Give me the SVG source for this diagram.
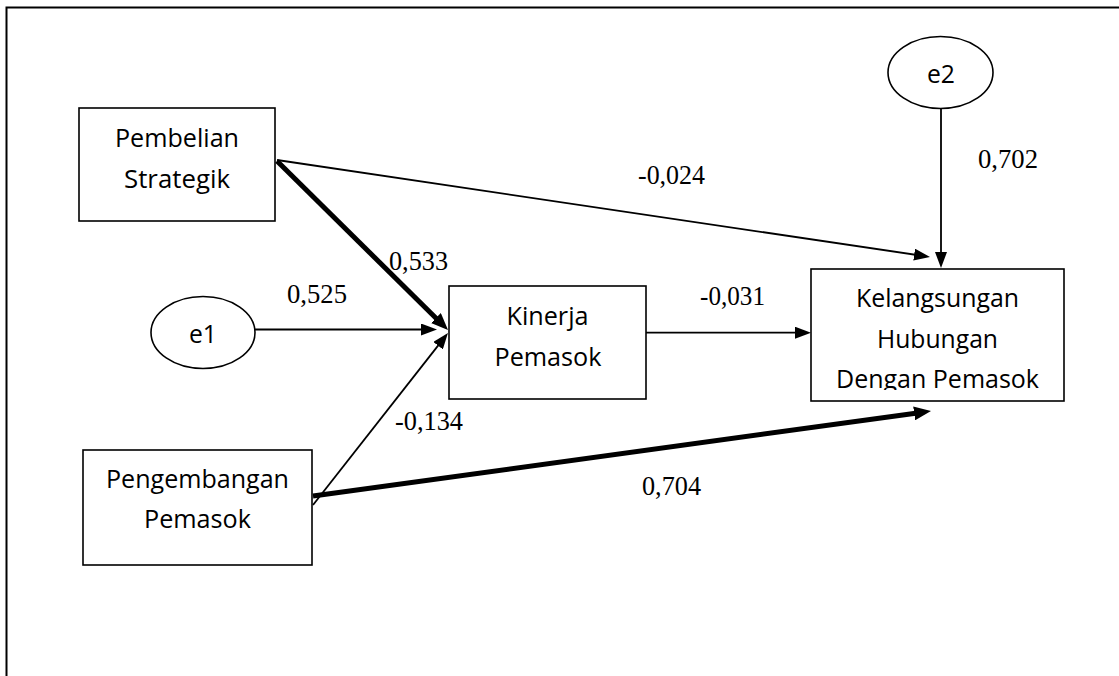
<svg xmlns="http://www.w3.org/2000/svg" width="1119" height="676" viewBox="0 0 1119 676">
<style>
.box{fill:#fff;stroke:#000;stroke-width:1.6}
.lbl{font-family:"Open Sans","Liberation Sans",sans-serif;font-size:26px;fill:#000;text-anchor:middle}
.num{font-family:"Liberation Serif","Times New Roman",serif;font-size:27px;fill:#000}
.thin{stroke:#000;stroke-width:1.8;fill:none;marker-end:url(#ah)}
.thick{stroke:#000;stroke-width:5;fill:none;marker-end:url(#ahb)}
</style>
<defs>
<marker id="ah" markerUnits="userSpaceOnUse" viewBox="0 0 16 12" markerWidth="16" markerHeight="12" refX="6" refY="6" orient="auto"><path d="M0,0 L16,6 L0,12 z" fill="#000"/></marker>
<marker id="ahb" markerUnits="userSpaceOnUse" viewBox="0 0 17 14" markerWidth="17" markerHeight="14" refX="7" refY="7" orient="auto"><path d="M0,0 L17,7 L0,14 z" fill="#000"/></marker>
<clipPath id="kclip"><rect x="811" y="269" width="253" height="121"/></clipPath>
</defs>
<rect width="1119" height="676" fill="#fff"/>
<path d="M6.5,676 V7.5 H1119" fill="none" stroke="#000" stroke-width="2"/>
<g id="connectors">
<line class="thin" x1="277" y1="160" x2="920.1" y2="255.5"/>
<line class="thin" x1="941" y1="108.5" x2="941" y2="258"/>
<line class="thick" x1="277" y1="161" x2="440.9" y2="323"/>
<line class="thin" x1="255" y1="329.5" x2="427" y2="329.5"/>
<line class="thin" x1="313" y1="505" x2="441.8" y2="340.9"/>
<line class="thin" x1="646" y1="332.7" x2="801" y2="332.7"/>
<line class="thick" x1="313" y1="496" x2="921.1" y2="412.4"/>
<text class="num" x="638" y="184" textLength="67" lengthAdjust="spacingAndGlyphs">-0,024</text>
<text class="num" x="978" y="168" textLength="60" lengthAdjust="spacingAndGlyphs">0,702</text>
<text class="num" x="389" y="270" textLength="59" lengthAdjust="spacingAndGlyphs">0,533</text>
<text class="num" x="287" y="303" textLength="60" lengthAdjust="spacingAndGlyphs">0,525</text>
<text class="num" x="700" y="305" textLength="65" lengthAdjust="spacingAndGlyphs">-0,031</text>
<text class="num" x="395" y="430" textLength="68" lengthAdjust="spacingAndGlyphs">-0,134</text>
<text class="num" x="642" y="495" textLength="59" lengthAdjust="spacingAndGlyphs">0,704</text>
</g>
<g id="pembelian">
<rect class="box" x="79" y="108" width="196" height="113"/>
<text class="lbl" x="177" y="147" textLength="124" lengthAdjust="spacingAndGlyphs">Pembelian</text>
<text class="lbl" x="177" y="188" textLength="106" lengthAdjust="spacingAndGlyphs">Strategik</text>
</g>
<g id="e2">
<ellipse class="box" cx="940.5" cy="72.5" rx="52.5" ry="36"/>
<text class="lbl" x="941" y="83" textLength="28" lengthAdjust="spacingAndGlyphs">e2</text>
</g>
<g id="e1">
<ellipse class="box" cx="203" cy="332.5" rx="52" ry="36"/>
<text class="lbl" x="203" y="343" textLength="28" lengthAdjust="spacingAndGlyphs">e1</text>
</g>
<g id="kinerja">
<rect class="box" x="449" y="286" width="197" height="113"/>
<text class="lbl" x="547.5" y="325" textLength="82" lengthAdjust="spacingAndGlyphs">Kinerja</text>
<text class="lbl" x="548" y="366" textLength="107" lengthAdjust="spacingAndGlyphs">Pemasok</text>
</g>
<g id="kelangsungan">
<rect class="box" x="811" y="269" width="253" height="132"/>
<g clip-path="url(#kclip)">
<text class="lbl" x="937.5" y="307" textLength="163" lengthAdjust="spacingAndGlyphs">Kelangsungan</text>
<text class="lbl" x="937.5" y="348" textLength="121" lengthAdjust="spacingAndGlyphs">Hubungan</text>
<text class="lbl" x="937.5" y="388" textLength="203" lengthAdjust="spacingAndGlyphs">Dengan Pemasok</text>
</g>
</g>
<g id="pengembangan">
<rect class="box" x="83" y="450" width="229" height="115"/>
<text class="lbl" x="197.5" y="488" textLength="183" lengthAdjust="spacingAndGlyphs">Pengembangan</text>
<text class="lbl" x="197.5" y="528" textLength="107" lengthAdjust="spacingAndGlyphs">Pemasok</text>
</g>
</svg>
